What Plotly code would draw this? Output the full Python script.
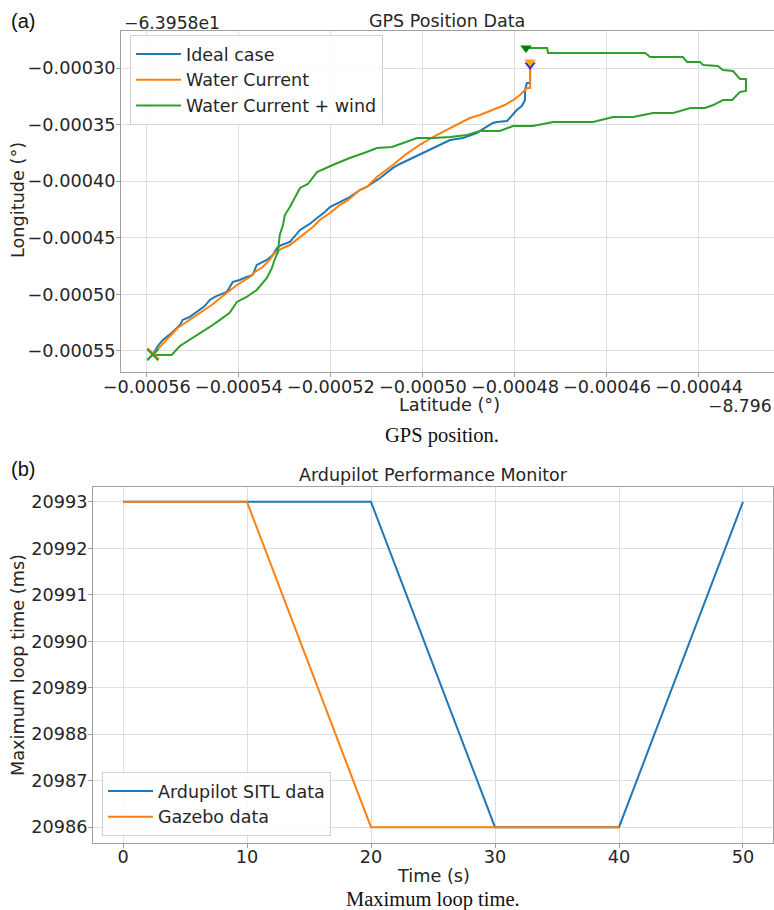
import plotly.graph_objects as go
import numpy as np

# ---------------- (a) GPS position data ----------------
# values relative to the axis offsets, in units of 1e-6 degree
LAT_OFFSET_TEXT = "\u22128.796"
LON_OFFSET_TEXT = "\u22126.3958e1"

ideal_lat_u = [-558.6, -557.6, -556.5, -554.6, -552.8, -552.2, -550.7, -548.5, -547.4, -546.3,
               -545.2, -543.7, -542.6, -541.3, -539.8, -538.3, -537.0, -536.1, -533.9, -532.6,
               -531.7, -530.7, -528.9, -526.7, -524.6, -523.0, -521.3, -520.2, -517.4, -515.9,
               -513.7, -512.2, -509.3, -506.5, -505.0, -502.2, -498.5, -496.3, -494.1, -491.3,
               -488.3, -484.8, -483.9, -481.7, -479.6, -478.5, -477.8, -477.8, -477.4, -476.7,
               -476.7]
ideal_lon_u = [-552.6, -545.6, -540.3, -534.1, -527.0, -522.6, -520.0, -513.8, -510.3, -504.9,
               -502.3, -499.6, -497.9, -489.0, -487.3, -484.6, -482.9, -474.0, -469.6, -465.2,
               -459.0, -456.4, -453.7, -443.1, -437.8, -432.5, -427.2, -422.8, -416.6, -414.0,
               -407.8, -405.1, -397.2, -388.3, -384.8, -379.5, -372.4, -368.0, -363.6, -361.8,
               -357.4, -348.6, -347.7, -346.8, -337.1, -333.6, -328.3, -319.4, -313.3, -313.3,
               -297.3]

current_lat_u = [-558.6, -556.7, -555.0, -553.3, -551.7, -550.7, -548.5, -547.4, -545.9, -543.5,
                 -542.0, -540.4, -537.6, -536.5, -534.8, -533.3, -532.2, -530.4, -528.9, -526.7,
                 -523.9, -522.4, -520.2, -518.0, -516.5, -513.7, -512.2, -510.0, -507.8, -506.5,
                 -503.9, -500.7, -497.0, -493.5, -489.8, -487.6, -484.8, -482.2, -480.4, -478.9,
                 -477.4, -476.7, -476.7]
current_lon_u = [-552.6, -544.7, -536.7, -529.7, -525.3, -522.6, -516.4, -513.8, -509.4, -501.4,
                 -496.9, -491.7, -484.6, -480.2, -475.8, -469.6, -463.4, -459.0, -456.4, -449.3,
                 -440.5, -434.3, -428.1, -421.0, -417.5, -407.8, -405.1, -396.3, -390.1, -385.7,
                 -376.9, -368.0, -359.2, -352.1, -344.2, -341.5, -337.1, -332.7, -328.3, -323.9,
                 -317.7, -317.7, -294.7]

wind_lat_u = [-558.7, -554.6, -552.8, -550.7, -548.5, -546.3, -544.1, -542.0, -540.4, -538.3,
              -536.1, -533.9, -532.8, -532.4, -531.5, -531.1, -530.4, -530.0, -528.9, -527.8,
              -526.7, -525.0, -523.9, -523.0, -519.6, -515.9, -512.2, -510.0, -506.7, -504.3,
              -501.3, -497.8, -494.1, -490.4, -487.6, -483.3, -480.4, -476.1, -471.7, -463.0,
              -458.7, -454.3, -450.0, -445.6, -441.9, -438.7, -436.9, -434.8, -432.8, -431.1,
              -429.8, -429.8, -431.1, -432.6, -434.8, -435.9, -439.1, -439.8, -442.6, -443.5,
              -450.6, -451.7, -472.8, -473.0, -477.6]
wind_lon_u = [-553.5, -553.5, -545.6, -540.3, -534.1, -528.8, -522.6, -516.4, -506.7, -502.3,
              -496.1, -485.5, -476.7, -471.4, -462.5, -447.5, -438.7, -429.9, -422.8, -414.0,
              -406.0, -402.5, -396.3, -391.9, -385.7, -379.5, -374.2, -370.7, -369.8, -366.3,
              -361.8, -361.8, -361.0, -359.2, -355.7, -355.7, -351.2, -351.2, -347.7, -347.7,
              -343.3, -343.3, -339.8, -339.8, -335.3, -335.3, -332.7, -328.3, -328.3, -321.2,
              -320.3, -309.7, -309.7, -302.7, -301.8, -298.2, -297.3, -294.7, -294.7, -290.3,
              -290.3, -286.7, -286.7, -282.3, -282.3]

gps_series = [
    ("Ideal case", ideal_lat_u, ideal_lon_u, "#1f77b4", "#2a2ae0"),
    ("Water Current", current_lat_u, current_lon_u, "#ff7f0e", "#ffa500"),
    ("Water Current + wind", wind_lat_u, wind_lon_u, "#2ca02c", "#008000"),
]

gps_xticks = [-0.00056, -0.00054, -0.00052, -0.00050, -0.00048, -0.00046, -0.00044]
gps_yticks = [-0.00055, -0.00050, -0.00045, -0.00040, -0.00035, -0.00030]

# ---------------- (b) Ardupilot performance ----------------
sitl_time_s = [0, 10, 20, 30, 40, 50]
sitl_loop_ms = [20993, 20993, 20993, 20986, 20986, 20993]
gazebo_time_s = [0, 10, 20, 30, 40]
gazebo_loop_ms = [20993, 20993, 20986, 20986, 20986]

loop_xticks = [0, 10, 20, 30, 40, 50]
loop_yticks = [20986, 20987, 20988, 20989, 20990, 20991, 20992, 20993]

W, H = 774, 910
FONT = "DejaVu Sans"
TXT = "#262626"


def px_x(p):
    return p / W


def px_y(p):
    return 1 - p / H


def fmt(v):
    return f"{v:.5f}".replace("-", "\u2212")


fig = go.Figure()

U = 1e-6
for name, lat, lon, col, mcol in gps_series:
    fig.add_trace(go.Scatter(x=np.array(lat) * U, y=np.array(lon) * U, mode="lines", name=name,
                             line=dict(color=col, width=2), xaxis="x", yaxis="y", legend="legend"))
for name, lat, lon, col, mcol in gps_series:
    fig.add_trace(go.Scatter(x=[lat[0] * U], y=[lon[0] * U], mode="markers", showlegend=False,
                             marker=dict(symbol="x-thin", size=11, line=dict(color=col, width=2)),
                             xaxis="x", yaxis="y"))
    fig.add_trace(go.Scatter(x=[lat[-1] * U], y=[lon[-1] * U], mode="markers", showlegend=False,
                             marker=dict(symbol="triangle-down", size=10, color=mcol),
                             xaxis="x", yaxis="y"))

fig.add_trace(go.Scatter(x=sitl_time_s, y=sitl_loop_ms, mode="lines", name="Ardupilot SITL data",
                         line=dict(color="#1f77b4", width=2), xaxis="x2", yaxis="y2", legend="legend2"))
fig.add_trace(go.Scatter(x=gazebo_time_s, y=gazebo_loop_ms, mode="lines", name="Gazebo data",
                         line=dict(color="#ff7f0e", width=2), xaxis="x2", yaxis="y2", legend="legend2"))

TICK_SIZE = 17.7
axis_common = dict(showline=True, linecolor="#a0a0a0", linewidth=1, mirror=True,
                   showgrid=True, gridcolor="#dedede", gridwidth=1, zeroline=False,
                   ticks="outside", ticklen=4, tickcolor="#a0a0a0", automargin=False,
                   tickfont=dict(family=FONT, size=TICK_SIZE, color=TXT))

fig.update_layout(
    width=W, height=H, margin=dict(l=0, r=0, t=0, b=0, autoexpand=False),
    paper_bgcolor="white", plot_bgcolor="white",
    font=dict(family=FONT, color=TXT),
    xaxis=dict(domain=[px_x(121), 1.0], anchor="y", range=[-565.6e-6, -423.7e-6],
               tickvals=gps_xticks, ticktext=[fmt(v) for v in gps_xticks],
               ticklabelstandoff=-5, **axis_common),
    yaxis=dict(domain=[px_y(372), px_y(31)], anchor="x", range=[-568.6e-6, -267.3e-6],
               tickvals=gps_yticks, ticktext=[fmt(v) for v in gps_yticks],
               ticklabelstandoff=-3, **axis_common),
    xaxis2=dict(domain=[px_x(93), px_x(773)], anchor="y2", range=[-2.42, 52.42],
                tickvals=loop_xticks, ticktext=[str(v) for v in loop_xticks],
                ticklabelstandoff=-6, **axis_common),
    yaxis2=dict(domain=[px_y(843), px_y(487)], anchor="x2", range=[20985.66, 20993.32],
                tickvals=loop_yticks, ticktext=[str(v) for v in loop_yticks],
                ticklabelstandoff=-3, **axis_common),
    legend=dict(x=px_x(130), y=px_y(35), xanchor="left", yanchor="top", itemwidth=45,
                font=dict(family=FONT, size=17.5, color=TXT),
                bgcolor="rgba(255,255,255,0.85)", bordercolor="#d0d0d0", borderwidth=1),
    legend2=dict(x=px_x(102), y=px_y(836), xanchor="left", yanchor="bottom", itemwidth=45,
                 font=dict(family=FONT, size=17.5, color=TXT),
                 bgcolor="rgba(255,255,255,0.85)", bordercolor="#d0d0d0", borderwidth=1),
    showlegend=True,
)

ann = [
    dict(text="GPS Position Data", x=px_x(447), y=px_y(21), size=17.5, family=FONT),
    dict(text="Ardupilot Performance Monitor", x=px_x(433), y=px_y(475), size=17.5, family=FONT),
    dict(text="Latitude (\u00b0)", x=px_x(449), y=px_y(405), size=17.7, family=FONT),
    dict(text="Longitude (\u00b0)", x=px_x(18), y=px_y(200), size=17.7, family=FONT, angle=-90),
    dict(text="Time (s)", x=px_x(434), y=px_y(876), size=17.7, family=FONT),
    dict(text="Maximum loop time (ms)", x=px_x(18), y=px_y(665), size=17.7, family=FONT, angle=-90),
    dict(text=LON_OFFSET_TEXT, x=px_x(122), y=px_y(23), size=17.2, family=FONT, xanchor="left"),
    dict(text=LAT_OFFSET_TEXT, x=px_x(774), y=px_y(406), size=17.2, family=FONT, xanchor="right"),
    dict(text="(a)", x=px_x(9), y=px_y(21), size=20, family="Liberation Sans", xanchor="left", color="#111"),
    dict(text="(b)", x=px_x(9), y=px_y(469), size=20, family="Liberation Sans", xanchor="left", color="#111"),
    dict(text="GPS position.", x=px_x(442), y=px_y(435), size=20.5, family="Liberation Serif", color="#111"),
    dict(text="Maximum loop time.", x=px_x(433), y=px_y(899), size=20.5, family="Liberation Serif", color="#111"),
]
for a in ann:
    fig.add_annotation(text=a["text"], x=a["x"], y=a["y"], xref="paper", yref="paper",
                       xanchor=a.get("xanchor", "center"), yanchor="middle", showarrow=False,
                       textangle=a.get("angle", 0),
                       font=dict(family=a["family"], size=a["size"], color=a.get("color", TXT)))

fig.write_html("out.html")
